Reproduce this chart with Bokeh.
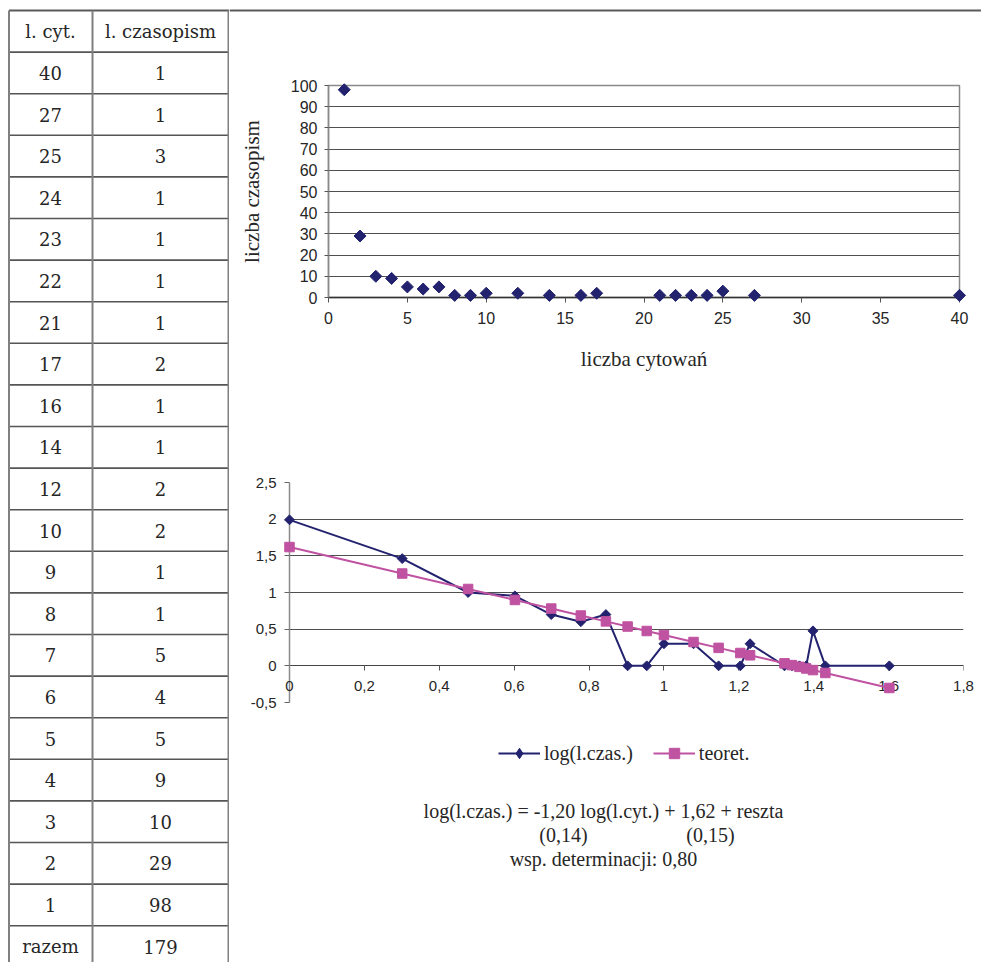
import numpy as np
from bokeh.plotting import figure
from bokeh.layouts import row, column
from bokeh.models import (Range1d, FixedTicker, CustomJSTickFormatter, Legend,
                          LegendItem, ColumnDataSource)
from bokeh.embed import file_html
from bokeh.resources import INLINE
from bokeh.core.properties import value

# ---------------- data ----------------
table_header = ["l. cyt.", "l. czasopism"]
cyt = [40, 27, 25, 24, 23, 22, 21, 17, 16, 14, 12, 10, 9, 8, 7, 6, 5, 4, 3, 2, 1]
czas = [1, 1, 3, 1, 1, 1, 1, 2, 1, 1, 2, 2, 1, 1, 5, 4, 5, 9, 10, 29, 98]
total_label = "razem"
total_value = 179

scatter_x_ticks = [0, 5, 10, 15, 20, 25, 30, 35, 40]
scatter_y_ticks = [0, 10, 20, 30, 40, 50, 60, 70, 80, 90, 100]

log_cyt = [0.000, 0.301, 0.477, 0.602, 0.699, 0.778, 0.845, 0.903, 0.954, 1.000, 1.079,
           1.146, 1.204, 1.230, 1.322, 1.342, 1.362, 1.380, 1.398, 1.431, 1.602]
log_czas = [1.991, 1.462, 1.000, 0.954, 0.699, 0.602, 0.699, 0.000, 0.000, 0.301, 0.301,
            0.000, 0.000, 0.301, 0.000, 0.000, 0.000, 0.000, 0.477, 0.000, 0.000]
teoret = [1.620, 1.259, 1.048, 0.898, 0.781, 0.686, 0.606, 0.536, 0.475, 0.420, 0.325,
          0.245, 0.175, 0.144, 0.034, 0.010, -0.014, -0.036, -0.058, -0.097, -0.302]
line_x_ticks = [0, 0.2, 0.4, 0.6, 0.8, 1.0, 1.2, 1.4, 1.6, 1.8]
line_x_labels = ["0", "0,2", "0,4", "0,6", "0,8", "1", "1,2", "1,4", "1,6", "1,8"]
line_y_ticks = [-0.5, 0, 0.5, 1.0, 1.5, 2.0, 2.5]

series_names = ["log(l.czas.)", "teoret."]
equation_lines = ["log(l.czas.) = -1,20 log(l.cyt.) + 1,62 + reszta",
                  "(0,14)", "(0,15)", "wsp. determinacji: 0,80"]

NAVY = "#22226f"
MAGENTA = "#c052a2"
SERIF = "Liberation Serif"
SANS = "Liberation Sans"
TXT = "#262626"


def canvas(w, h, xr, yr):
    f = figure(width=w, height=h, x_range=Range1d(*xr), y_range=Range1d(*yr),
               x_axis_type=None, y_axis_type=None, toolbar_location=None,
               output_backend="svg", min_border=0)
    f.min_border_left = f.min_border_right = f.min_border_top = f.min_border_bottom = 0
    f.outline_line_color = None
    f.xgrid.visible = False
    f.ygrid.visible = False
    f.background_fill_color = "white"
    f.border_fill_color = "white"
    f.frame_align = False
    return f


# ---------------- table ----------------
ROW_H = 41.6
TOP = 10.0
tab = canvas(229, 962, (0, 229), (962, 0))
n_rows = 2 + len(cyt)
hy = [TOP + ROW_H * k for k in range(1, n_rows + 1)]
tab.segment(x0=[8.5] * len(hy), y0=hy, x1=[228] * len(hy), y1=hy,
            line_color="#555555", line_width=1.6)
tab.segment(x0=[8.5], y0=[TOP], x1=[229], y1=[TOP], line_color="#5a5a5a", line_width=2.2)
tab.segment(x0=[8.5, 92, 228], y0=[TOP] * 3, x1=[8.5, 92, 228], y1=[962] * 3,
            line_color="#808080", line_width=2)

col1 = [table_header[0]] + [str(v) for v in cyt] + [total_label]
col2 = [table_header[1]] + [str(v) for v in czas] + [str(total_value)]
ty = [TOP + ROW_H * (k + 0.5) for k in range(n_rows)]
tab.text(x=[50] * n_rows, y=ty, text=col1, text_font=value("DejaVu Serif"),
         text_font_size="18px", text_align="center", text_baseline="middle",
         text_color=TXT)
tab.text(x=[160] * n_rows, y=ty, text=col2, text_font=value("DejaVu Serif"),
         text_font_size="18px", text_align="center", text_baseline="middle",
         text_color=TXT)

# ---------------- top rule ----------------
rule = canvas(752, 12, (229, 981), (12, 0))
rule.segment(x0=[229], y0=[10], x1=[981], y1=[10], line_color="#5a5a5a", line_width=2.2)


def style_axis(ax, tick_font):
    ax.major_label_text_font = SANS
    ax.major_label_text_font_size = tick_font
    ax.major_label_text_color = TXT
    ax.minor_tick_line_color = None
    ax.major_tick_in = 0
    ax.major_tick_out = 5
    ax.axis_label_text_font = SERIF
    ax.axis_label_text_font_style = "normal"
    ax.axis_label_text_font_size = "20px"
    ax.axis_label_text_color = TXT


def style_plot(p, tick_font):
    style_axis(p.xaxis[0], tick_font)
    style_axis(p.yaxis[0], tick_font)
    p.xgrid.visible = False
    p.ygrid.grid_line_color = "#4f4f4f"
    p.ygrid.grid_line_width = 1
    p.background_fill_color = "white"
    p.border_fill_color = "white"
    p.frame_align = False


# ---------------- scatter ----------------
ps = figure(width=752, height=368, x_range=Range1d(0, 40), y_range=Range1d(0, 100),
            toolbar_location=None, output_backend="svg")
ps.min_border_left = 99
ps.min_border_right = 22
ps.min_border_top = 73
ps.min_border_bottom = 83
style_plot(ps, "16px")
ps.xaxis.ticker = FixedTicker(ticks=scatter_x_ticks)
ps.yaxis.ticker = FixedTicker(ticks=scatter_y_ticks)
ps.ygrid.ticker = FixedTicker(ticks=scatter_y_ticks)
ps.xaxis.axis_label = "liczba cytowań"
ps.yaxis.axis_label = "liczba czasopism"
ps.xaxis.axis_label_text_font_size = "21px"
ps.yaxis.axis_label_text_font_size = "21px"
ps.xaxis.axis_line_color = "#333333"
ps.xaxis.axis_line_width = 1.5
ps.xaxis.major_tick_line_color = "#555555"
ps.yaxis.axis_line_color = "#8a8a8a"
ps.yaxis.axis_line_width = 1.5
ps.yaxis.major_tick_line_color = "#555555"
ps.xaxis.major_label_standoff = 9
ps.yaxis.major_label_standoff = 7
ps.yaxis.major_tick_out = 4
ps.xaxis.axis_label_standoff = 20
ps.yaxis.axis_label_standoff = 24
ps.outline_line_color = "#8a8a8a"
ps.outline_line_width = 1.5
sr = ps.scatter(x=cyt, y=czas, marker="square", angle=np.pi / 4, size=8.5,
                fill_color=NAVY, line_color=NAVY)
sr.level = "overlay"

# ---------------- log-log line chart ----------------
pl = figure(width=752, height=345, x_range=Range1d(0, 1.8), y_range=Range1d(-0.5, 2.5),
            toolbar_location=None, output_backend="svg")
pl.min_border_left = 60
pl.min_border_right = 18
pl.min_border_top = 102
pl.min_border_bottom = 23
style_plot(pl, "15px")
fmt = "return (Math.round(tick*10)/10).toString().replace('.', ',');"
pl.yaxis.ticker = FixedTicker(ticks=line_y_ticks)
pl.ygrid.ticker = FixedTicker(ticks=line_y_ticks)
pl.yaxis.formatter = CustomJSTickFormatter(code=fmt)
pl.yaxis.axis_line_color = "#8a8a8a"
pl.yaxis.axis_line_width = 1.5
pl.yaxis.major_tick_line_color = "#666666"
pl.yaxis.major_label_standoff = 8
pl.outline_line_color = None

# x axis crossing at y = 0 (line + tick marks); labels drawn unclipped
xax = pl.xaxis[0]
xax.ticker = FixedTicker(ticks=line_x_ticks)
xax.formatter = CustomJSTickFormatter(code="return '';")
xax.fixed_location = 0
xax.axis_line_color = "#444444"
xax.major_tick_line_color = "#555555"
xax.major_label_standoff = 0
xlabels = pl.text(x=line_x_ticks, y=[0] * len(line_x_ticks), text=line_x_labels,
                  y_offset=20, text_font=value(SANS), text_font_size="15px",
                  text_align="center", text_baseline="middle", text_color=TXT)
xlabels.level = "overlay"

src = ColumnDataSource(dict(x=log_cyt, y=log_czas, t=teoret))


def draw_series(p, navy_marker="square", navy_angle=np.pi / 4):
    a = p.line("x", "y", source=src, line_color=NAVY, line_width=2)
    b = p.scatter("x", "y", source=src, marker=navy_marker, angle=navy_angle, size=7,
                  fill_color=NAVY, line_color=NAVY)
    c = p.line("x", "t", source=src, line_color=MAGENTA, line_width=2)
    d = p.scatter("x", "t", source=src, marker="square", size=9.5,
                  fill_color=MAGENTA, line_color=MAGENTA)
    return a, b, c, d


for r in draw_series(pl):
    r.level = "overlay"

# ---------------- legend + equation text (below the line chart) ----------------
eq = canvas(752, 237, (229, 981), (962, 725))
# the same series in this panel lie outside its ranges: they only feed the legend
g1, g2, g3, g4 = draw_series(eq, navy_marker="diamond", navy_angle=0)
leg = Legend(items=[LegendItem(label=series_names[0], renderers=[g1, g2]),
                    LegendItem(label=series_names[1], renderers=[g3, g4])],
             orientation="horizontal", location=(269, 196))
leg.padding = 0
leg.margin = 0
leg.spacing = 20
leg.glyph_width = 42
leg.glyph_height = 26
leg.label_height = 26
leg.label_standoff = 4
leg.label_text_font = SERIF
leg.label_text_font_size = "20px"
leg.label_text_color = TXT
leg.background_fill_alpha = 0
leg.border_line_color = None
eq.add_layout(leg)

eq.text(x=[603, 563, 710, 603], y=[810, 834, 834, 858], text=equation_lines,
        text_font=value(SERIF), text_font_size="20px", text_align="center",
        text_baseline="middle", text_color=TXT)

layout = row(tab, column(rule, ps, pl, eq))
open("out.html", "w").write(file_html(layout, INLINE))
